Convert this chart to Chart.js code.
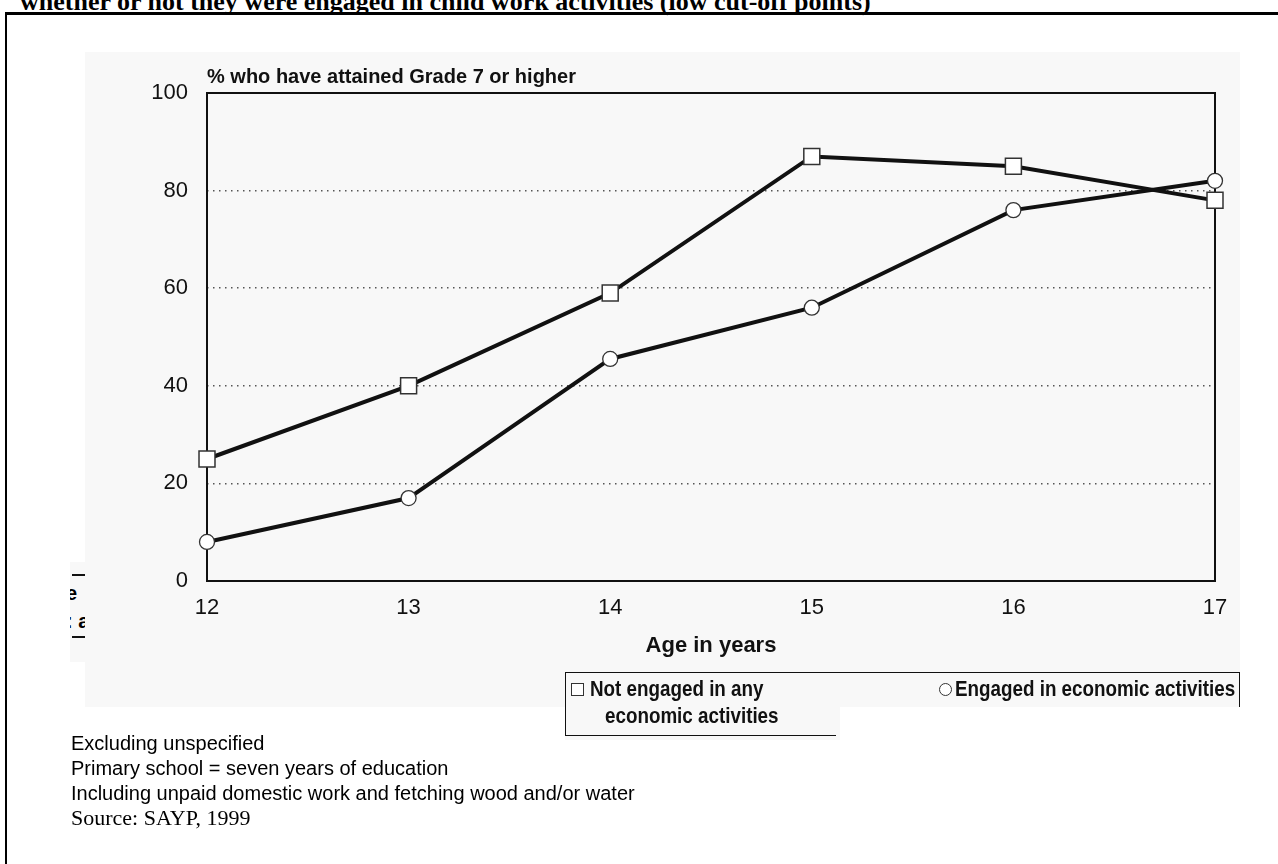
<!DOCTYPE html>
<html>
<head>
<meta charset="utf-8">
<script src="https://cdn.jsdelivr.net/npm/chart.js@4.4.0/dist/chart.umd.min.js"></script>
<style>
  body { margin: 0; width: 1278px; height: 864px; background: #fff; position: relative; overflow: hidden; }
  .abs { position: absolute; }
  #pageTitle { left: 20px; top: -13px; font: bold 26px "Liberation Serif", "Times New Roman", serif; color: #000; white-space: nowrap; line-height: 30px; }
  #frameTop { left: 5px; top: 12px; width: 1273px; height: 3px; background: #000; }
  #frameLeft { left: 5px; top: 12px; width: 2px; height: 852px; background: #000; }
  #scanBg { left: 85px; top: 52px; width: 1155px; height: 655px; background: #f8f8f8; }
  #scanBg2 { left: 565px; top: 707px; width: 275px; height: 33px; background: #f8f8f8; }
  #strip { left: 70px; top: 562px; width: 15px; height: 100px; background: #f8f8f8; overflow: hidden; }
  #strip div { position: absolute; font: bold 20px "Liberation Sans", Arial, sans-serif; white-space: nowrap; }
  #chartWrap { left: 0; top: 0; width: 1278px; height: 864px; }
  #legA { left: 565px; top: 672px; width: 270px; height: 62px; border: 1.5px solid #111; border-right: none; }
  #legB { left: 835px; top: 672px; width: 404px; height: 34px; border-top: 1.5px solid #111; border-right: 1.5px solid #111; }
  .legTxt { font: bold 22px "Liberation Sans", Arial, sans-serif; color: #111; white-space: nowrap; line-height: 26px; transform: scaleX(0.855); transform-origin: 0 50%; }
  #sq { left: 571px; top: 683px; width: 11px; height: 11px; border: 1.3px solid #333; background: #fff; }
  #ci { left: 939px; top: 683px; width: 11px; height: 11px; border: 1.3px solid #333; border-radius: 50%; background: #fff; }
  .note { left: 71px; font: 20px "Liberation Sans", Arial, sans-serif; color: #000; white-space: nowrap; line-height: 24px; }
  .src { font: 22px "Liberation Serif", "Times New Roman", serif; }
</style>
</head>
<body>
<div id="pageTitle" class="abs">whether or not they were engaged in child work activities (low cut-off points)</div>
<div id="frameTop" class="abs"></div>
<div id="frameLeft" class="abs"></div>
<div id="scanBg" class="abs"></div>
<div id="scanBg2" class="abs"></div>
<div id="strip" class="abs">
  <div style="left:2px; top:12px; width:15px; height:2px; background:#111;"></div>
  <div style="left:-4px; top:20px;">e</div>
  <div style="left:-4px; top:48px;">: a</div>
  <div style="left:2px; top:74px; width:15px; height:2px; background:#111;"></div>
</div>
<div id="chartWrap" class="abs"><canvas id="chart" width="1278" height="864"></canvas></div>
<div id="legA" class="abs"></div>
<div id="legB" class="abs"></div>
<div id="sq" class="abs"></div>
<div class="abs legTxt" style="left:590px; top:676px;">Not engaged in any</div>
<div class="abs legTxt" style="left:605px; top:703px;">economic activities</div>
<div id="ci" class="abs"></div>
<div class="abs legTxt" style="left:955px; top:676px;">Engaged in economic activities</div>
<div class="abs note" style="top:731px;">Excluding unspecified</div>
<div class="abs note" style="top:756px;">Primary school = seven years of education</div>
<div class="abs note" style="top:781px;">Including unpaid domestic work and fetching wood and/or water</div>
<div class="abs note src" style="top:805px;">Source: SAYP, 1999</div>

<script>
// --------------------------------------------
// Datos
// --------------------------------------------
const ages = ['12', '13', '14', '15', '16', '17'];
const notEngaged = [25, 40, 59, 87, 85, 78];
const engaged = [8, 17, 45.5, 56, 76, 82];
const yTicks = [0, 20, 40, 60, 80, 100];

const yTitle = '% who have attained Grade 7 or higher';
const xTitle = 'Age in years';

// marco del área del gráfico + texto superior del eje y
const framePlugin = {
    id: 'frame',
    beforeDatasetsDraw: function(chart) {
        const { ctx, chartArea } = chart;
        ctx.save();
        ctx.strokeStyle = '#111';
        ctx.lineWidth = 2;
        ctx.strokeRect(chartArea.left, chartArea.top, chartArea.right - chartArea.left, chartArea.bottom - chartArea.top);
        ctx.fillStyle = '#111';
        ctx.font = 'bold 20px "Liberation Sans", Arial, sans-serif';
        ctx.textBaseline = 'middle';
        ctx.textAlign = 'left';
        ctx.fillText(yTitle, chartArea.left, 77);
        ctx.restore();
    }
};

new Chart(document.getElementById('chart').getContext('2d'), {
    type: 'line',
    data: {
        labels: ages,
        datasets: [
            {
                label: 'Not engaged in any economic activities',
                data: notEngaged,
                borderColor: '#111',
                borderWidth: 4,
                tension: 0,
                pointStyle: 'rect',
                pointRadius: 11.3,
                pointBackgroundColor: '#fff',
                pointBorderColor: '#333',
                pointBorderWidth: 1.5,
                clip: false
            },
            {
                label: 'Engaged in economic activities',
                data: engaged,
                borderColor: '#111',
                borderWidth: 4,
                tension: 0,
                pointStyle: 'circle',
                pointRadius: 7.5,
                pointBackgroundColor: '#fff',
                pointBorderColor: '#333',
                pointBorderWidth: 1.3,
                clip: false
            }
        ]
    },
    options: {
        responsive: false,
        animation: false,
        layout: { padding: { left: 0, top: 93, right: 63, bottom: 205 } },
        plugins: {
            legend: { display: false },
            tooltip: { enabled: false }
        },
        scales: {
            x: {
                offset: false,
                grid: { display: false, drawTicks: false },
                border: { display: false },
                ticks: {
                    color: '#111',
                    padding: 14,
                    maxRotation: 0,
                    font: { family: '"Liberation Sans", Arial, sans-serif', size: 22 }
                },
                title: {
                    display: true,
                    text: xTitle,
                    color: '#111',
                    padding: 0,
                    font: { family: '"Liberation Sans", Arial, sans-serif', size: 22, weight: 'bold' }
                },
                afterFit: function(scale) { scale.height = 78; }
            },
            y: {
                min: 0,
                max: 100,
                afterBuildTicks: function(scale) { scale.ticks = yTicks.map(v => ({ value: v })); },
                grid: {
                    drawTicks: false,
                    lineWidth: 1.5,
                    color: function(c) {
                        const v = c.tick ? c.tick.value : 0;
                        return (v === 0 || v === 100) ? 'rgba(0,0,0,0)' : '#555';
                    }
                },
                border: { display: false, dash: [1.5, 4.5] },
                ticks: {
                    color: '#111',
                    padding: 19,
                    font: { family: '"Liberation Sans", Arial, sans-serif', size: 22 }
                },
                afterFit: function(scale) { scale.width = 207; }
            }
        }
    },
    plugins: [framePlugin]
});
</script>
</body>
</html>
